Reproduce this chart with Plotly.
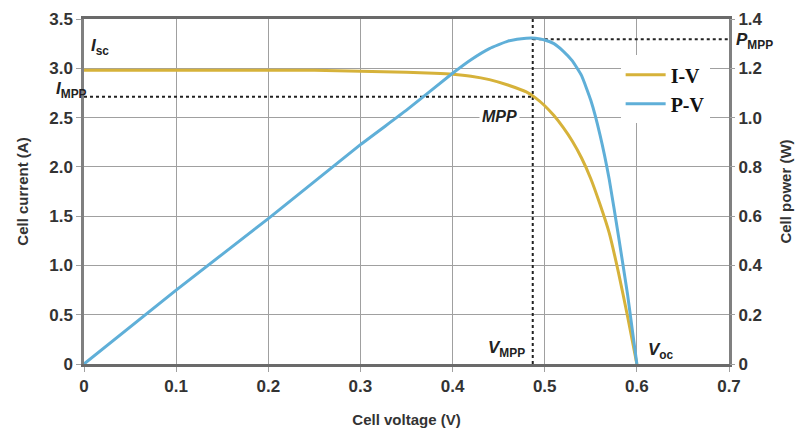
import plotly.graph_objects as go

# ---- data ----
V_iv = [0, 0.05, 0.10, 0.15, 0.20, 0.25, 0.30, 0.35, 0.38, 0.40, 0.42, 0.44, 0.46, 0.48,
        0.49, 0.50, 0.51, 0.52, 0.53, 0.54, 0.55, 0.56, 0.57, 0.58, 0.59, 0.60]
I_iv = [2.98, 2.98, 2.98, 2.98, 2.98, 2.98, 2.97, 2.96, 2.95, 2.94, 2.92, 2.885, 2.83, 2.76,
        2.70, 2.62, 2.52, 2.40, 2.26, 2.09, 1.88, 1.62, 1.33, 0.93, 0.48, 0.0]

V_pv = [0, 0.10, 0.20, 0.30, 0.35, 0.40, 0.42, 0.44, 0.46, 0.47, 0.48, 0.49, 0.50,
        0.51, 0.52, 0.53, 0.54, 0.55, 0.56, 0.57, 0.58, 0.59, 0.60]
P_pv = [0, 0.30, 0.59, 0.89, 1.03, 1.18, 1.235, 1.28, 1.31, 1.318, 1.322, 1.322, 1.315,
        1.30, 1.27, 1.23, 1.17, 1.07, 0.93, 0.75, 0.52, 0.28, 0.0]

V_mpp = 0.487
I_mpp = 2.71
P_mpp = 1.318
I_sc = 2.98
V_oc = 0.60

x_ticks = [0, 0.1, 0.2, 0.3, 0.4, 0.5, 0.6, 0.7]
x_labels = ["0", "0.1", "0.2", "0.3", "0.4", "0.5", "0.6", "0.7"]
y_ticks = [0, 0.5, 1.0, 1.5, 2.0, 2.5, 3.0, 3.5]
y_labels = ["0", "0.5", "1.0", "1.5", "2.0", "2.5", "3.0", "3.5"]
y2_ticks = [0, 0.2, 0.4, 0.6, 0.8, 1.0, 1.2, 1.4]
y2_labels = ["0", "0.2", "0.4", "0.6", "0.8", "1.0", "1.2", "1.4"]

# ---- styles ----
YELLOW = "#D6B23A"
BLUE = "#5FAFD8"
GRID = "#a0a0a0"
FRAME = "#808080"
TICKFONT = dict(family="Liberation Sans, Arial", size=17, color="#333333", weight="bold")
TITLEFONT = dict(family="Liberation Sans, Arial", size=15, color="#333333", weight="bold")
ANNFONT = dict(family="Liberation Sans, Arial", size=17, color="#222222")

fig = go.Figure()

# dotted MPP guide lines
fig.add_trace(go.Scatter(x=[0, V_mpp], y=[I_mpp, I_mpp], mode="lines",
                         line=dict(color="#222222", width=2, dash="3px,3px"),
                         showlegend=False, hoverinfo="skip"))
fig.add_trace(go.Scatter(x=[V_mpp, V_mpp], y=[0, 3.5], mode="lines",
                         line=dict(color="#222222", width=2, dash="3px,3px"),
                         showlegend=False, hoverinfo="skip"))
fig.add_trace(go.Scatter(x=[V_mpp, 0.7], y=[P_mpp, P_mpp], mode="lines", yaxis="y2",
                         line=dict(color="#222222", width=2, dash="3px,3px"),
                         showlegend=False, hoverinfo="skip"))

fig.add_trace(go.Scatter(x=V_iv, y=I_iv, mode="lines", name="I-V",
                         line=dict(color=YELLOW, width=3, shape="spline", smoothing=0.4)))
fig.add_trace(go.Scatter(x=V_pv, y=P_pv, mode="lines", name="P-V", yaxis="y2",
                         line=dict(color=BLUE, width=3, shape="spline", smoothing=0.4)))

# ---- annotations ----
def sub(main, s):
    return f"<b><i>{main}</i></b><sub><b>{s}</b></sub>"

fig.add_annotation(x=0.005, y=3.22, xref="x", yref="y", text=sub("I", "sc"),
                   showarrow=False, xanchor="left", yanchor="middle", font=ANNFONT)
fig.add_annotation(x=-0.046, y=2.78, xref="paper", yref="y", text=sub("I", "MPP"),
                   showarrow=False, xanchor="left", yanchor="middle", font=ANNFONT)
fig.add_annotation(x=1.008, y=P_mpp - 0.008, xref="paper", yref="y2", text=sub("P", "MPP"),
                   showarrow=False, xanchor="left", yanchor="middle", font=ANNFONT)
fig.add_annotation(x=0.458, y=0.15, xref="x", yref="y", text=sub("V", "MPP"),
                   showarrow=False, xanchor="center", yanchor="middle", font=ANNFONT)
fig.add_annotation(x=0.626, y=0.13, xref="x", yref="y", text=sub("V", "oc"),
                   showarrow=False, xanchor="center", yanchor="middle", font=ANNFONT)
fig.add_annotation(x=0.451, y=2.51, xref="x", yref="y", text="<b><i>MPP</i></b>",
                   showarrow=False, xanchor="center", yanchor="middle", bgcolor="white",
                   borderpad=2, font=dict(family="Liberation Sans, Arial", size=16, color="#222222"))

fig.update_layout(
    width=796, height=437,
    margin=dict(l=84, r=67, t=19, b=73, autoexpand=False),
    paper_bgcolor="white", plot_bgcolor="white",
    showlegend=True,
    legend=dict(x=0.832, y=0.895, xanchor="left", yanchor="top",
                bgcolor="white", borderwidth=0,
                font=dict(family="Liberation Serif, Times New Roman", size=20,
                          color="#111111", weight="bold"),
                tracegroupgap=0, itemwidth=40),
    xaxis=dict(range=[0, 0.7], tickvals=x_ticks, ticktext=x_labels,
               showgrid=True, gridcolor=GRID, gridwidth=1,
               showline=True, linecolor="#6a6a6a", linewidth=3, mirror=True,
               ticks="outside", ticklen=5, tickcolor=GRID,
               tickfont=TICKFONT, zeroline=False, automargin=False,
               title=dict(text="Cell voltage (V)", font=TITLEFONT, standoff=20)),
    yaxis=dict(range=[0, 3.5], tickvals=y_ticks, ticktext=y_labels,
               showgrid=True, gridcolor=GRID, gridwidth=1,
               showline=True, linecolor=FRAME, linewidth=2.5, mirror=True,
               ticks="outside", ticklen=5, tickcolor=GRID,
               tickfont=TICKFONT, zeroline=False, automargin=False,
               title=dict(text="Cell current (A)", font=TITLEFONT, standoff=17)),
    yaxis2=dict(range=[0, 1.4], tickvals=y2_ticks, ticktext=y2_labels,
                overlaying="y", side="right", showgrid=False,
                showline=False, ticks="outside", ticklen=5, tickcolor=GRID,
                tickfont=TICKFONT, zeroline=False, automargin=False,
                title=dict(text="Cell power (W)", font=TITLEFONT, standoff=18)),
)

fig.write_html("out.html")
